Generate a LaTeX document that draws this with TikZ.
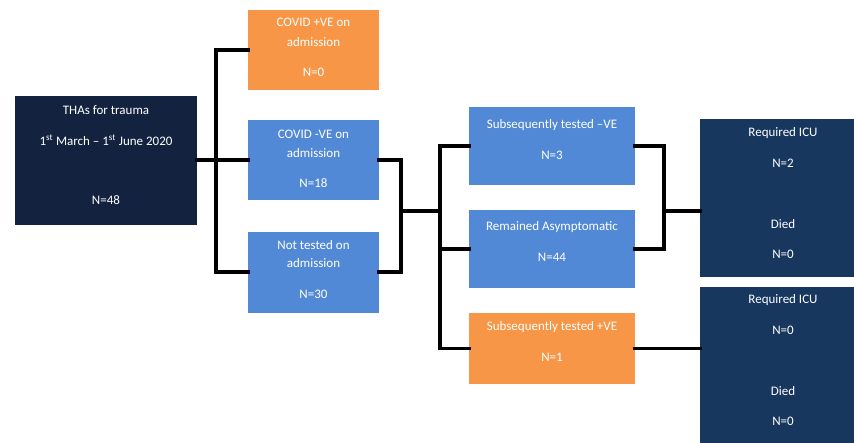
\documentclass[tikz,border=0pt]{standalone}
\usepackage{fontspec}
\setmainfont{Carlito}
\definecolor{navyA}{HTML}{13233F}
\definecolor{navyB}{HTML}{18375E}
\definecolor{orangeA}{HTML}{F79646}
\definecolor{blueA}{HTML}{5289D6}
\tikzset{
  box/.style={draw=none, inner sep=0pt},
  txt/.style={text=white, font=\fontsize{13}{15}\selectfont, inner sep=0pt, anchor=center},
  conn/.style={line width=3.5pt, black, line cap=rect, line join=miter}
}
\begin{document}
\begin{tikzpicture}[x=1pt,y=-1pt]
\useasboundingbox (0,0) rectangle (854,442);
% boxes
\node[box, fill=navyA, minimum width=182pt, minimum height=129pt] (thas) at (106,160) {};
\node[box, fill=orangeA, minimum width=131pt, minimum height=80pt] (covp) at (313.5,50) {};
\node[box, fill=blueA, minimum width=131pt, minimum height=80pt] (cneg) at (313.5,160) {};
\node[box, fill=blueA, minimum width=131pt, minimum height=81pt] (nt) at (313.5,272) {};
\node[box, fill=blueA, minimum width=166pt, minimum height=78pt] (sneg) at (552,146) {};
\node[box, fill=blueA, minimum width=166pt, minimum height=78pt] (rem) at (552,249) {};
\node[box, fill=orangeA, minimum width=166pt, minimum height=71pt] (spos) at (552,348.5) {};
\node[box, fill=navyB, minimum width=170pt, minimum height=158pt] (icua) at (785,198) {};
\node[box, fill=navyB, minimum width=170pt, minimum height=160pt] (icub) at (785,367) {};
% texts
\node[txt] (t1) at (106,110) {THAs for trauma};
\node[txt] (t2) at (106,140) {1\textsuperscript{st} March – 1\textsuperscript{st} June 2020};
\node[txt] (t3) at (106,200) {N=48};
\node[txt] (t4) at (313.5,22) {COVID +VE on};
\node[txt] (t5) at (313.5,42) {admission};
\node[txt] (t6) at (313.5,72) {N=0};
\node[txt] (t7) at (313.5,134) {COVID -VE on};
\node[txt] (t8) at (313.5,153) {admission};
\node[txt] (t9) at (313.5,183) {N=18};
\node[txt] (t10) at (313.5,245) {Not tested on};
\node[txt] (t11) at (313.5,263) {admission};
\node[txt] (t12) at (313.5,294) {N=30};
\node[txt] (t13) at (552,125) {Subsequently tested –VE};
\node[txt] (t14) at (552,155) {N=3};
\node[txt] (t15) at (552,227) {Remained Asymptomatic};
\node[txt] (t16) at (552,257) {N=44};
\node[txt] (t17) at (552,327) {Subsequently tested +VE};
\node[txt] (t18) at (552,357) {N=1};
\node[txt] (t19) at (783,133) {Required ICU};
\node[txt] (t20) at (783,163) {N=2};
\node[txt] (t21) at (783,224) {Died};
\node[txt] (t22) at (783,254) {N=0};
\node[txt] (t23) at (783,300) {Required ICU};
\node[txt] (t24) at (783,330) {N=0};
\node[txt] (t25) at (783,391) {Died};
\node[txt] (t26) at (783,421) {N=0};
% junction coordinates
\coordinate (j1) at (216,160);
\coordinate (j2) at (401,211);
\coordinate (j3) at (440,211);
\coordinate (j4) at (664,211);
% connectors
\draw[conn] (thas.east) -- (cneg.west);
\draw[conn] (covp.west) -| (j1) |- (nt.west);
\draw[conn] (cneg.east) -| (j2) |- (nt.east);
\draw[conn] (j2) -- (j3);
\draw[conn] (sneg.west) -| (j3) |- (spos.west);
\draw[conn] (j3) |- (rem.west);
\draw[conn] (sneg.east) -| (j4) |- (rem.east);
\draw[conn] (j4) -- (j4 -| icua.west);
\draw[conn] (spos.east) -- (spos.east -| icub.west);
\end{tikzpicture}
\end{document}
